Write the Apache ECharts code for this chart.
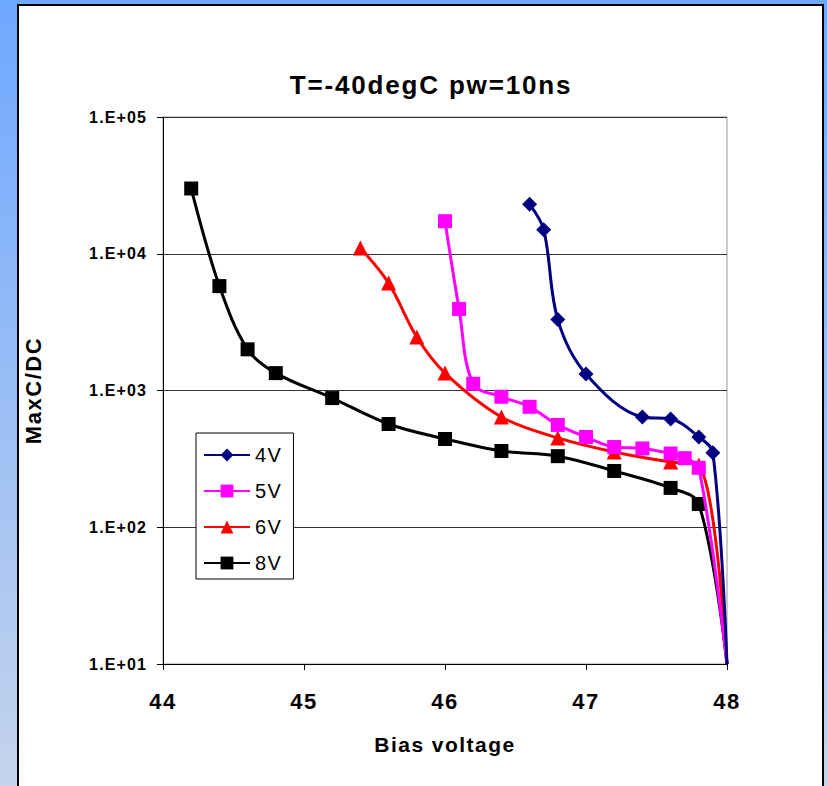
<!DOCTYPE html>
<html>
<head>
<meta charset="utf-8">
<script src="https://cdn.jsdelivr.net/npm/echarts@6/dist/echarts.min.js"></script>
<style>
html,body{margin:0;padding:0;background:#fff;}
#chart{width:827px;height:786px;}
#chart text{letter-spacing:0.07em;}
</style>
</head>
<body>
<div id="chart"></div>
<script>
const titleText = 'T=-40degC pw=10ns';
const xName = 'Bias voltage';
const yName = 'MaxC/DC';
const seriesNames = ['4V', '5V', '6V', '8V'];

const x4V = [46.6, 46.7, 46.8, 47.0, 47.4, 47.6, 47.8, 47.9, 48.0];
const y4V = [23000, 15000, 3300, 1320, 640, 620, 457, 350, 10];

const x5V = [46.0, 46.1, 46.2, 46.4, 46.6, 46.8, 47.0, 47.2, 47.4, 47.6, 47.7, 47.8, 48.0];
const y5V = [17300, 3950, 1120, 900, 760, 560, 457, 386, 377, 346, 320, 272, 10];

const x6V = [45.4, 45.6, 45.8, 46.0, 46.4, 46.8, 47.2, 47.6, 47.8, 48.0];
const y6V = [11000, 6100, 2460, 1340, 640, 450, 355, 300, 285, 10];

const x8V = [44.2, 44.4, 44.6, 44.8, 45.2, 45.6, 46.0, 46.4, 46.8, 47.2, 47.6, 47.8, 48.0];
const y8V = [30000, 5800, 2000, 1340, 880, 569, 442, 361, 331, 258, 194, 148, 10];

const colors = ['#000080', '#ff00ff', '#ff0000', '#000000'];
const symbols = ['diamond', 'rect', 'triangle', 'rect'];
const symbolSizes = [15, 14, 15, 14];

function pairs(xs, ys) { return xs.map((x, i) => [x, ys[i]]); }
const dataSets = [pairs(x4V, y4V), pairs(x5V, y5V), pairs(x6V, y6V), pairs(x8V, y8V)];

const FONT = '"Liberation Sans", Arial, sans-serif';
const chart = echarts.init(document.getElementById('chart'), null, {renderer: 'svg'});

chart.setOption({
  animation: false,
  backgroundColor: '#ffffff',
  graphic: [
    { type: 'rect', z: -10, silent: true, shape: {x: 0, y: 0, width: 827, height: 786},
      style: { fill: new echarts.graphic.LinearGradient(0, 0, 0, 1, [
        {offset: 0, color: '#6fa8ff'}, {offset: 1, color: '#c4d4ec'}]) } },
    { type: 'rect', z: -9, silent: true, shape: {x: 18, y: 5, width: 805, height: 790},
      style: { fill: '#ffffff', stroke: '#000000', lineWidth: 2 } }
  ],
  title: {
    text: titleText, left: 426, top: 67, textAlign: 'center',
    textStyle: { fontFamily: FONT, fontWeight: 'bold', fontSize: 26, color: '#000' }
  },
  grid: { left: 163, right: 100, top: 117, bottom: 122, show: true, borderColor: '#999', borderWidth: 1, backgroundColor: 'transparent' },
  legend: {
    orient: 'vertical', left: 196, top: 433,
    data: seriesNames,
    backgroundColor: '#fff', borderColor: '#000', borderWidth: 1,
    padding: [12, 14, 6, 7], itemGap: 16, itemWidth: 46, itemHeight: 16,
    textStyle: { fontFamily: FONT, fontSize: 20, color: '#000' }
  },
  xAxis: {
    type: 'value', min: 44, max: 48, interval: 1,
    name: xName, nameLocation: 'middle', nameGap: 70,
    nameTextStyle: { fontFamily: FONT, fontWeight: 'bold', fontSize: 21, color: '#000' },
    axisLine: { show: true, onZero: false, lineStyle: { color: '#000', width: 1 } },
    axisTick: { show: true, inside: false, length: 6, lineStyle: { color: '#000' } },
    axisLabel: { margin: 26, fontFamily: FONT, fontWeight: 'bold', fontSize: 22, color: '#000' },
    splitLine: { show: false }
  },
  yAxis: {
    type: 'log', logBase: 10, min: 10, max: 100000,
    name: yName, nameLocation: 'middle', nameGap: 119, nameRotate: 90,
    nameTextStyle: { fontFamily: FONT, fontWeight: 'bold', fontSize: 22, color: '#000' },
    axisLine: { show: true, lineStyle: { color: '#000', width: 1 } },
    axisTick: { show: true, inside: false, length: 6, lineStyle: { color: '#000' } },
    axisLabel: { margin: 16, fontFamily: FONT, fontWeight: 'bold', fontSize: 16, color: '#000',
      formatter: function (v) { const e = Math.round(Math.log10(v)); return '1.E+' + (e < 10 ? '0' : '') + e; } },
    splitLine: { show: true, lineStyle: { color: '#333', width: 1 } },
    minorTick: { show: false }
  },
  series: seriesNames.map((n, i) => ({
    name: n, type: 'line', smooth: 0.35,
    data: dataSets[i].map((d, j) => j === dataSets[i].length - 1 ? { value: d, symbol: 'none' } : d),
    symbol: symbols[i], symbolSize: symbolSizes[i], showAllSymbol: true,
    lineStyle: { color: colors[i], width: 3 },
    itemStyle: { color: colors[i] },
    clip: true, z: 10 - i
  }))
});
</script>
</body>
</html>
